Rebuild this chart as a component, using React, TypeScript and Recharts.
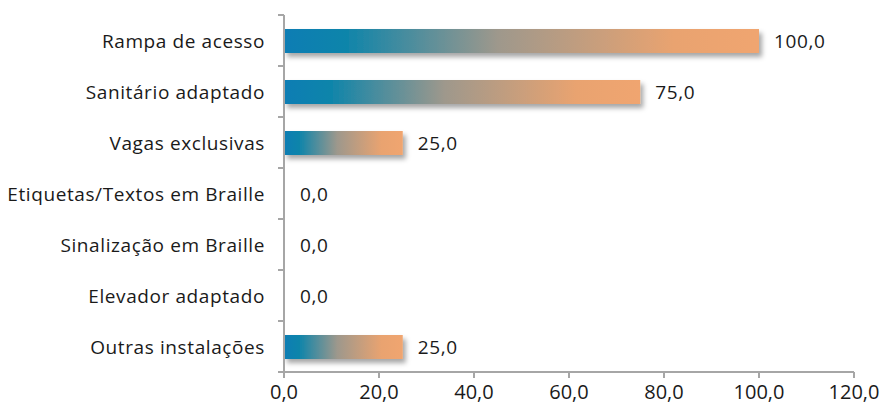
import React from "react";
import { BarChart, Bar, XAxis, YAxis, LabelList } from "recharts";

const categories = [
  "Rampa de acesso",
  "Sanitário adaptado",
  "Vagas exclusivas",
  "Etiquetas/Textos em Braille",
  "Sinalização em Braille",
  "Elevador adaptado",
  "Outras instalações",
];
const values = [100, 75, 25, 0, 0, 0, 25];
const xTicks = [0, 20, 40, 60, 80, 100, 120];

const data = categories.map((name, i) => ({ name, value: values[i] }));

const FONT = "'Open Sans', sans-serif";
const LS = "0.6px";
const AXIS = "#a6a6a6";
const TXT = "#1a1a1a";
const fmt = (v: number) => v.toFixed(1).replace(".", ",");

const CategoryTick = (props: any) => {
  const { x, y, payload, index } = props;
  const half = payload && payload.offset ? payload.offset : 0;
  const last = index === categories.length - 1;
  return (
    <g>
      <line x1={x + 13} x2={x + 19} y1={y - half} y2={y - half} stroke={AXIS} strokeWidth={2} />
      {last && (
        <line x1={x + 13} x2={x + 19} y1={y + half} y2={y + half} stroke={AXIS} strokeWidth={2} />
      )}
      <text x={x} y={y} dy={7} textAnchor="end" fill={TXT} fontSize={19} fontFamily={FONT} letterSpacing={LS}>
        {payload.value}
      </text>
    </g>
  );
};

export default function App() {
  return (
    <div style={{ position: "absolute", left: 0, top: 0, width: 882, height: 407, background: "#fff" }}>
      <BarChart
        width={882}
        height={407}
        data={data}
        layout="vertical"
        margin={{ top: 15, right: 28, bottom: 0, left: 0 }}
        barSize={24}
      >
        <defs>
          <linearGradient id="barGrad" x1="0" y1="0" x2="1" y2="0">
            <stop offset="0%" stopColor="#0a7db4" />
            <stop offset="12%" stopColor="#0a84ab" />
            <stop offset="45%" stopColor="#9e988c" />
            <stop offset="82%" stopColor="#e9a370" />
            <stop offset="100%" stopColor="#f0a56f" />
          </linearGradient>
          <filter id="shadow" x="-5%" y="-30%" width="115%" height="180%">
            <feDropShadow dx="3" dy="4" stdDeviation="2.5" floodColor="#000" floodOpacity="0.35" />
          </filter>
        </defs>
        <XAxis
          type="number"
          domain={[0, 120]}
          ticks={xTicks}
          tickFormatter={fmt}
          height={35}
          axisLine={{ stroke: AXIS, strokeWidth: 2 }}
          tickLine={{ stroke: AXIS, strokeWidth: 2 }}
          tickSize={6}
          tickMargin={7}
          tick={{ fill: TXT, fontSize: 20, fontFamily: FONT }}
          interval={0}
        />
        <YAxis
          type="category"
          dataKey="name"
          width={284}
          axisLine={{ stroke: AXIS, strokeWidth: 2 }}
          tickLine={false}
          tickSize={0}
          tickMargin={19}
          tick={<CategoryTick />}
          interval={0}
        />
        <YAxis yAxisId="labels" type="category" dataKey="name" hide />
        <Bar dataKey="value" fill="url(#barGrad)" filter="url(#shadow)" isAnimationActive={false} />
        <Bar
          dataKey="value"
          yAxisId="labels"
          fill="transparent"
          minPointSize={1}
          isAnimationActive={false}
        >
          <LabelList
            dataKey="value"
            position="right"
            offset={15}
            formatter={(v: any) => fmt(Number(v))}
            style={{ fill: TXT, fontSize: 19, fontFamily: FONT, letterSpacing: LS }}
          />
        </Bar>
      </BarChart>
    </div>
  );
}
